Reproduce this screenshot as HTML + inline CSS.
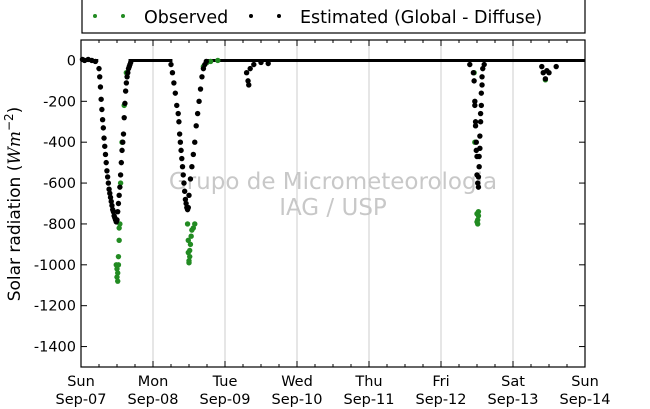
<!DOCTYPE html>
<html><head><meta charset="utf-8"><style>
html,body{margin:0;padding:0;background:#fff;}
svg{display:block;font-family:"DejaVu Sans","Liberation Sans",sans-serif;}
</style></head><body>
<svg id="chart" width="650" height="409" viewBox="0 0 650 409">
<rect x="82" y="-2" width="503" height="35" fill="#fff" stroke="#000" stroke-width="1.2"/>
<g>
<circle cx="95" cy="16" r="2" fill="#228b22"/><circle cx="123" cy="16" r="2" fill="#228b22"/>
<text x="144" y="23" font-size="17.5">Observed</text></g>
<g>
<circle cx="251" cy="16" r="2" fill="#000"/><circle cx="279" cy="16" r="2" fill="#000"/>
<text x="300" y="23" font-size="17.5">Estimated (Global - Diffuse)</text></g>
<g id="grid"></g>
<text x="333" y="189" font-size="23" fill="#c8c8c8" text-anchor="middle">Grupo de Micrometeorologia</text>
<text x="333" y="215" font-size="23" fill="#c8c8c8" text-anchor="middle">IAG / USP</text>
<g id="plot"></g>
<rect x="81" y="40" width="504" height="327" fill="none" stroke="#000" stroke-width="1.2"/>
<g id="axes"></g>
<text transform="translate(20,204) rotate(-90)" font-size="17" text-anchor="middle">Solar radiation (<tspan font-style="italic" font-family="DejaVu Serif">Wm</tspan><tspan font-size="12" dy="-7">−2</tspan><tspan dy="7">)</tspan></text>
</svg>
<script>
const dayNames=["Sun","Mon","Tue","Wed","Thu","Fri","Sat","Sun"];
const dateLabels=["Sep-07","Sep-08","Sep-09","Sep-10","Sep-11","Sep-12","Sep-13","Sep-14"];
const yTicks=[0,-200,-400,-600,-800,-1000,-1200,-1400];
const zeroSegments=[[0,0.24],[0.66,1.27],[1.72,7]];
const estT=[0.02,0.05,0.1,0.15,0.2,0.25,0.26,0.27,0.28,0.29,0.3,0.31,0.32,0.33,0.34,0.35,0.36,0.37,0.38,0.39,0.4,0.41,0.42,0.43,0.44,0.45,0.46,0.47,0.48,0.49,0.5,0.51,0.52,0.53,0.54,0.55,0.56,0.57,0.58,0.59,0.6,0.61,0.62,0.63,0.64,0.65,0.66,0.67,0.68,0.69,
1.25,1.27,1.29,1.31,1.33,1.35,1.36,1.37,1.38,1.39,1.4,1.41,1.42,1.43,1.44,1.45,1.46,1.47,1.48,1.49,1.5,1.52,1.54,1.56,1.58,1.6,1.62,1.64,1.66,1.68,1.7,1.72,1.74,
2.3,2.32,2.33,2.35,2.4,2.5,2.6,
5.4,5.45,5.46,5.47,5.47,5.48,5.48,5.49,5.49,5.5,5.5,5.51,5.52,5.52,5.53,5.53,5.54,5.54,5.55,5.55,5.56,5.56,5.57,5.57,5.58,5.6,
6.4,6.42,6.45,6.47,6.5,6.6];
const estV=[5,0,5,0,-5,-40,-80,-130,-190,-240,-290,-330,-380,-420,-460,-500,-540,-570,-600,-630,-650,-670,-690,-710,-730,-740,-760,-770,-780,-790,-780,-740,-700,-660,-620,-560,-500,-440,-400,-360,-280,-210,-150,-110,-80,-60,-40,-30,-20,-10,
-20,-60,-110,-160,-220,-260,-300,-360,-400,-440,-480,-520,-560,-600,-640,-680,-700,-720,-730,-720,-660,-580,-520,-460,-400,-320,-260,-200,-140,-80,-40,-20,-5,
-60,-100,-120,-40,-20,-10,-15,
-20,-60,-100,-200,-220,-300,-320,-400,-440,-470,-560,-600,-620,-570,-520,-470,-430,-370,-300,-260,-220,-160,-120,-80,-40,-20,
-30,-60,-90,-50,-60,-30];
const obsT=[0.49,0.5,0.5,0.51,0.51,0.52,0.52,0.53,0.53,0.54,0.55,0.57,0.6,0.63,
1.48,1.49,1.49,1.5,1.5,1.51,1.51,1.52,1.53,1.54,1.56,1.58,1.7,1.75,1.8,1.9,
5.5,5.5,5.51,5.51,5.52,5.52,5.47,5.46,
6.45];
const obsV=[-1000,-1020,-1060,-1080,-1040,-1000,-960,-880,-820,-800,-600,-400,-220,-60,
-800,-880,-940,-980,-990,-960,-930,-900,-860,-830,-820,-800,-30,-10,-5,0,
-750,-790,-800,-780,-760,-740,-400,-60,
-95];
const X0=81,X1=585,Y0=367,Y1=40,VMIN=-1500,VMAX=100,TMIN=0,TMAX=7;
function xs(t){return X0+(t-TMIN)/(TMAX-TMIN)*(X1-X0);}
function ys(v){return Y0-(v-VMIN)/(VMAX-VMIN)*(Y0-Y1);}
const NS="http://www.w3.org/2000/svg";
function mk(tag,attrs,parent){const e=document.createElementNS(NS,tag);for(const k in attrs)e.setAttribute(k,attrs[k]);parent.appendChild(e);return e;}
const grid=document.getElementById('grid'),plot=document.getElementById('plot'),axes=document.getElementById('axes');
for(let d=1;d<7;d++){const l=mk('line',{x1:xs(d),x2:xs(d),y1:Y1,y2:Y0,stroke:'#cccccc','stroke-width':1},grid);

}
for(let i=0;i<=28;i++){const t=i*0.25,len=(i%4===0)?6:3;
const a=mk('line',{x1:xs(t),x2:xs(t),y1:Y1,y2:Y1+len,stroke:'#000','stroke-width':1},axes);


const b=mk('line',{x1:xs(t),x2:xs(t),y1:Y0,y2:Y0-len,stroke:'#000','stroke-width':1},axes);

}
dayNames.forEach((d,i)=>{const t=mk('text',{x:xs(i),y:386,'font-size':14.5,'text-anchor':'middle'},axes);t.textContent=d;


const u=mk('text',{x:xs(i),y:404,'font-size':14.5,'text-anchor':'middle'},axes);u.textContent=dateLabels[i];

});
yTicks.forEach(v=>{const y=ys(v);
const a=mk('line',{x1:X0,x2:X0+6,y1:y,y2:y,stroke:'#000'},axes);


const b=mk('line',{x1:X1,x2:X1-6,y1:y,y2:y,stroke:'#000'},axes);


const t=mk('text',{x:76,y:y+5,'font-size':14.5,'text-anchor':'end'},axes);t.textContent=v;

});
zeroSegments.forEach(s=>{const l=mk('line',{x1:xs(s[0]),x2:xs(s[1]),y1:ys(0),y2:ys(0),stroke:'#000','stroke-width':3},plot);

});
obsT.forEach((t,i)=>{const c=mk('circle',{cx:xs(t),cy:ys(obsV[i]),r:2.7,fill:'#228b22'},plot);

});
estT.forEach((t,i)=>{const c=mk('circle',{cx:xs(t),cy:ys(estV[i]),r:2.7,fill:'#000'},plot);

});
</script>
</body></html>
